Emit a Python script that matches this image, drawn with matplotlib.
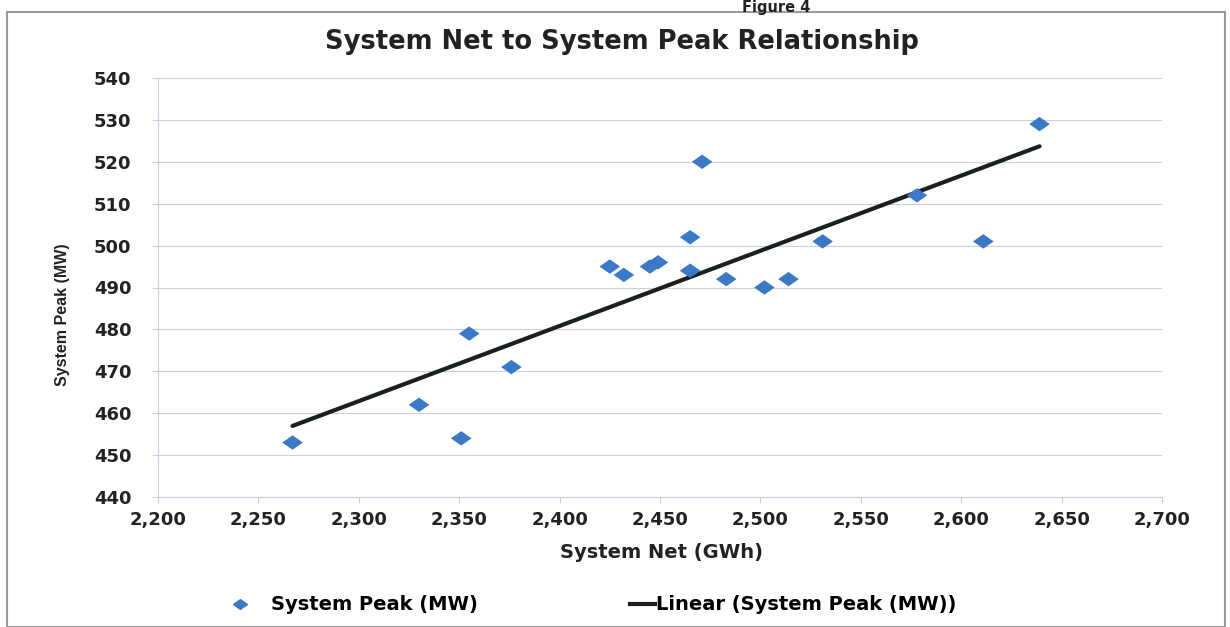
import numpy as np
import matplotlib.pyplot as plt
from matplotlib.patches import Rectangle
from matplotlib.lines import Line2D
from matplotlib.ticker import FuncFormatter

plt.rcParams['font.family'] = ['DejaVu Sans']
plt.rcParams['font.weight'] = 'bold'

# annual system net energy (GWh) vs system peak (MW)
system_net = [2267, 2330, 2351, 2355, 2376, 2425, 2432, 2445, 2449, 2465,
              2471, 2465, 2483, 2502, 2514, 2531, 2578, 2611, 2639]
system_peak = [453, 462, 454, 479, 471, 495, 493, 495, 496, 502,
               520, 494, 492, 490, 492, 501, 512, 501, 529]

x_ticks = [2200, 2250, 2300, 2350, 2400, 2450, 2500, 2550, 2600, 2650, 2700]
y_ticks = [440, 450, 460, 470, 480, 490, 500, 510, 520, 530, 540]

W, H = 1230, 627
fig = plt.figure(figsize=(W/100, H/100), dpi=100)
ax = fig.add_axes([158/W, 1 - 497/H, (1162-158)/W, (497-78)/H])

txt = '#222222'
grid_c = '#c8d0dc'
blue = '#3b78c6'
# wide diamond marker
diamond = [(-1, 0), (0, 0.7), (1, 0), (0, -0.7), (-1, 0)]

# chart frame
fig.patches.append(Rectangle((7/W, 0), 1218/W, 1 - 12/H, transform=fig.transFigure,
                             fill=False, edgecolor='#9a9a9a', linewidth=1.5))
fig.text(776/W, 1.0, 'Figure 4', ha='center', va='top', fontsize=10.5, color=txt)

ax.scatter(system_net, system_peak, marker=diamond, s=220, color=blue,
           edgecolors='none', zorder=3)

slope, intercept = np.polyfit(system_net, system_peak, 1)
xl = np.array([min(system_net), max(system_net)])
ax.plot(xl, slope*xl + intercept, color='#1a1f1f', linewidth=3, zorder=2,
        solid_capstyle='round')

ax.set_xlim(2200, 2700)
ax.set_ylim(440, 540)
ax.set_xticks(x_ticks)
ax.set_yticks(y_ticks)
ax.xaxis.set_major_formatter(FuncFormatter(lambda v, p: '{:,.0f}'.format(v)))
ax.tick_params(axis='both', labelsize=13, labelcolor=txt, color=grid_c, length=4, width=0.8)
ax.tick_params(axis='y', pad=15)
ax.tick_params(axis='x', pad=6)
for lab in ax.get_xticklabels() + ax.get_yticklabels():
    lab.set_fontweight('bold')

ax.grid(axis='y', color=grid_c, linewidth=0.8)
ax.set_axisbelow(True)
for s in ['top', 'right']:
    ax.spines[s].set_visible(False)
ax.spines['left'].set_color(grid_c)
ax.spines['bottom'].set_color(grid_c)

fig.text(622/W, 1 - 42/H, 'System Net to System Peak Relationship', ha='center', va='center',
         fontsize=18.5, fontweight='bold', color=txt)
ax.set_xlabel('System Net (GWh)', fontsize=14, fontweight='bold', color=txt)
ax.xaxis.set_label_coords((662-158)/1004, (497-543)/419)
ax.set_ylabel('System Peak (MW)', fontsize=11.5, fontweight='bold', color=txt,
              family=['Liberation Sans', 'DejaVu Sans'])
ax.yaxis.set_label_coords((62-158)/1004, (497-315)/419)
ax.yaxis.label.set_va('center')

# legend, two entries placed side by side
h1 = Line2D([], [], linestyle='none', marker=diamond, markersize=10, color=blue)
h2 = Line2D([], [], color='#1a1f1f', linewidth=3)
fig.legend([h1], ['System Peak (MW)'], loc='center left', bbox_to_anchor=(226/W, 1 - 605/H),
           frameon=False, borderpad=0, borderaxespad=0, handlelength=1.4, handletextpad=0.9,
           prop={'weight': 'bold', 'size': 14})
fig.legend([h2], ['Linear (System Peak (MW))'], loc='center left', bbox_to_anchor=(630/W, 1 - 605/H),
           frameon=False, borderpad=0, borderaxespad=0, handlelength=1.3, handletextpad=0.05,
           prop={'weight': 'bold', 'size': 14})

plt.savefig('out.png', dpi=100)
